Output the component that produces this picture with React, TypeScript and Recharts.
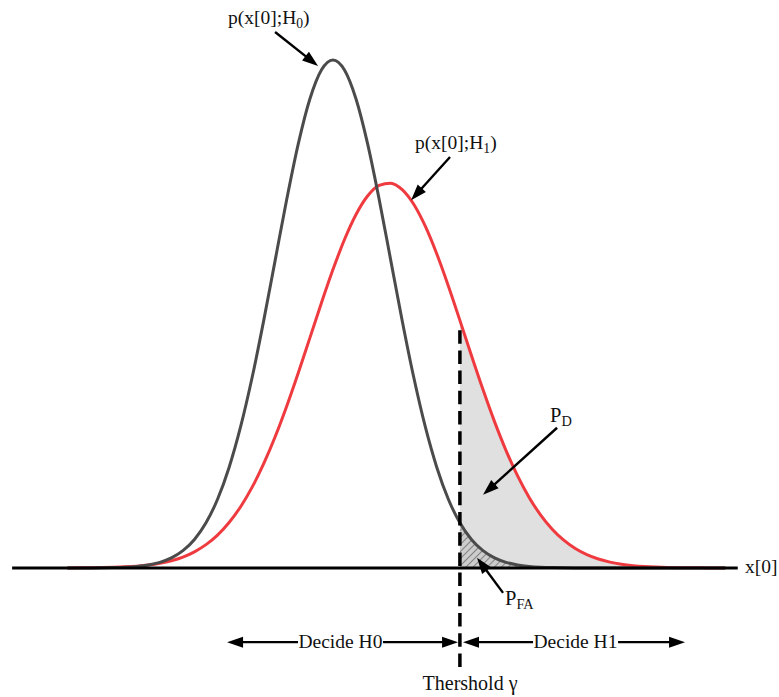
import React from 'react';
import {
  ComposedChart,
  Line,
  Area,
  XAxis,
  YAxis,
  ReferenceLine,
  ReferenceDot,
} from 'recharts';

// x[0] sample positions (arbitrary units, H0 mean at 0)
const xValues = [
  -4.6, -4.4, -4.2, -4.0, -3.8, -3.6, -3.4, -3.2, -3.0, -2.8, -2.6, -2.4, -2.2, -2.0, -1.8, -1.6, -1.4, -1.2, -1.0,
  -0.8, -0.6, -0.4, -0.2, 0, 0.2, 0.4, 0.6, 0.8, 1.0, 1.2, 1.4, 1.6, 1.8, 2.0, 2.2, 2.4, 2.6, 2.8, 3.0, 3.2, 3.4,
  3.6, 3.8, 4.0, 4.2, 4.4, 4.6, 4.8, 5.0, 5.2, 5.4, 5.6, 5.8, 6.0, 6.2, 6.4, 6.6, 6.8,
];

// p(x[0];H0)
const h0Values = [
  0, 0.0001, 0.0001, 0.0003, 0.0007, 0.0015, 0.0031, 0.006, 0.0111, 0.0198, 0.034, 0.0561, 0.0889, 0.1353, 0.1979,
  0.278, 0.3753, 0.4868, 0.6065, 0.7261, 0.8353, 0.9231, 0.9802, 1, 0.9802, 0.9231, 0.8353, 0.7261, 0.6065, 0.4868,
  0.3753, 0.278, 0.1979, 0.1353, 0.0889, 0.0561, 0.034, 0.0198, 0.0111, 0.006, 0.0031, 0.0015, 0.0007, 0.0003,
  0.0001, 0.0001, 0, 0, 0, 0, 0, 0, 0, 0, 0, 0, 0, 0,
];

// p(x[0];H1)
const h1Values = [
  0.0001, 0.0002, 0.0004, 0.0007, 0.0013, 0.0022, 0.0036, 0.0058, 0.0092, 0.0142, 0.0215, 0.0318, 0.0459, 0.0647,
  0.0894, 0.1206, 0.1591, 0.2053, 0.2588, 0.319, 0.3844, 0.4529, 0.5216, 0.5873, 0.6466, 0.6959, 0.7322, 0.7532,
  0.7575, 0.7447, 0.7159, 0.6727, 0.618, 0.5551, 0.4874, 0.4184, 0.3512, 0.2881, 0.2311, 0.1812, 0.1389, 0.1041,
  0.0763, 0.0547, 0.0383, 0.0262, 0.0176, 0.0115, 0.0074, 0.0046, 0.0028, 0.0017, 0.001, 0.0006, 0.0003, 0.0002,
  0.0001, 0.0001,
];

const threshold = 2.2;

const data = xValues.map((x, i) => ({
  x,
  h0: h0Values[i],
  h1: h1Values[i],
  pd: x >= threshold ? h1Values[i] : null,
  pfa: x >= threshold ? h0Values[i] : null,
}));

const serif = '"Liberation Serif", "Times New Roman", serif';

const textShape =
  (main: string, sub?: string, tail?: string, anchor: 'start' | 'middle' = 'start', size = 19.5) =>
  (p: any) => (
    <text x={p.cx} y={p.cy} fontFamily={serif} fontSize={size} fill="#111" textAnchor={anchor}>
      {main}
      {sub ? (
        <tspan fontSize={size * 0.7} dy={4}>
          {sub}
        </tspan>
      ) : null}
      {sub && tail ? <tspan dy={-4}>{tail}</tspan> : null}
    </text>
  );

const arrowShape = (p: any) => {
  const { x1, y1, x2, y2 } = p;
  const dx = x2 - x1;
  const dy = y2 - y1;
  const len = Math.hypot(dx, dy) || 1;
  const ux = dx / len;
  const uy = dy / len;
  const hl = 16;
  const hw = 5.5;
  const bx = x2 - ux * hl;
  const by = y2 - uy * hl;
  return (
    <g>
      <line x1={x1} y1={y1} x2={bx + ux * 2} y2={by + uy * 2} stroke="#000" strokeWidth={2.4} />
      <polygon points={`${x2},${y2} ${bx - uy * hw},${by + ux * hw} ${bx + uy * hw},${by - ux * hw}`} fill="#000" />
    </g>
  );
};

const App: React.FC = () => {
  return (
    <div style={{ position: 'absolute', left: 0, top: 0, background: '#fff' }}>
      <ComposedChart width={779} height={697} data={data} margin={{ top: 0, right: 0, bottom: 0, left: 0 }}>
        <defs>
          <pattern id="hatch" width={5} height={5} patternUnits="userSpaceOnUse" patternTransform="rotate(45)">
            <rect width={5} height={5} fill="#cdcdcd" />
            <line x1={0} y1={0} x2={0} y2={5} stroke="#7a7a7a" strokeWidth={1.8} />
          </pattern>
        </defs>
        <XAxis type="number" dataKey="x" domain={[-5.77, 7.73]} hide allowDataOverflow />
        <YAxis type="number" domain={[-0.254, 1.118]} hide allowDataOverflow />

        <Area
          type="monotone"
          dataKey="pd"
          baseValue={0}
          stroke="none"
          fill="#e0e0e0"
          fillOpacity={1}
          dot={false}
          activeDot={false}
          isAnimationActive={false}
        />
        <Area
          type="monotone"
          dataKey="pfa"
          baseValue={0}
          stroke="none"
          fill="url(#hatch)"
          fillOpacity={1}
          dot={false}
          activeDot={false}
          isAnimationActive={false}
        />
        <Line
          type="monotone"
          dataKey="h1"
          stroke="#ef3b3f"
          strokeWidth={3}
          dot={false}
          activeDot={false}
          isAnimationActive={false}
        />
        <Line
          type="monotone"
          dataKey="h0"
          stroke="#4b4b4b"
          strokeWidth={3}
          dot={false}
          activeDot={false}
          isAnimationActive={false}
        />

        {/* x[0] axis */}
        <ReferenceLine
          segment={[
            { x: -5.56, y: 0 },
            { x: 7.015, y: 0 },
          ]}
          stroke="#000"
          strokeWidth={3}
          ifOverflow="visible"
        />
        {/* threshold gamma */}
        <ReferenceLine
          segment={[
            { x: threshold, y: 0.468 },
            { x: threshold, y: -0.197 },
          ]}
          stroke="#000"
          strokeWidth={3.5}
          strokeDasharray="13.5 6.7"
          ifOverflow="visible"
        />

        {/* annotation arrows */}
        <ReferenceLine segment={[{ x: -1.003, y: 1.055 }, { x: -0.258, y: 0.988 }]} shape={arrowShape} ifOverflow="visible" />
        <ReferenceLine segment={[{ x: 2.029, y: 0.809 }, { x: 1.354, y: 0.724 }]} shape={arrowShape} ifOverflow="visible" />
        <ReferenceLine segment={[{ x: 3.884, y: 0.276 }, { x: 2.601, y: 0.144 }]} shape={arrowShape} ifOverflow="visible" />
        <ReferenceLine segment={[{ x: 2.948, y: -0.049 }, { x: 2.497, y: 0.02 }]} shape={arrowShape} ifOverflow="visible" />
        <ReferenceLine segment={[{ x: -0.605, y: -0.146 }, { x: -1.835, y: -0.146 }]} shape={arrowShape} ifOverflow="visible" />
        <ReferenceLine segment={[{ x: 0.868, y: -0.146 }, { x: 2.168, y: -0.146 }]} shape={arrowShape} ifOverflow="visible" />
        <ReferenceLine segment={[{ x: 3.468, y: -0.146 }, { x: 2.254, y: -0.146 }]} shape={arrowShape} ifOverflow="visible" />
        <ReferenceLine segment={[{ x: 4.941, y: -0.146 }, { x: 6.102, y: -0.146 }]} shape={arrowShape} ifOverflow="visible" />

        {/* labels */}
        <ReferenceDot x={-1.818} y={1.071} shape={textShape('p(x[0];H', '0', ')')} ifOverflow="visible" />
        <ReferenceDot x={1.423} y={0.825} shape={textShape('p(x[0];H', '1', ')')} ifOverflow="visible" />
        <ReferenceDot x={3.763} y={0.287} shape={textShape('P', 'D', undefined, 'start', 20.5)} ifOverflow="visible" />
        <ReferenceDot x={2.982} y={-0.073} shape={textShape('P', 'FA', undefined, 'start', 20.5)} ifOverflow="visible" />
        <ReferenceDot x={0.13} y={-0.157} shape={textShape('Decide H0', undefined, undefined, 'middle')} ifOverflow="visible" />
        <ReferenceDot x={4.203} y={-0.157} shape={textShape('Decide H1', undefined, undefined, 'middle')} ifOverflow="visible" />
        <ReferenceDot x={2.376} y={-0.24} shape={textShape('Thershold γ', undefined, undefined, 'middle', 20)} ifOverflow="visible" />
        <ReferenceDot x={7.141} y={-0.01} shape={textShape('x[0]')} ifOverflow="visible" />
      </ComposedChart>
    </div>
  );
};

export default App;
